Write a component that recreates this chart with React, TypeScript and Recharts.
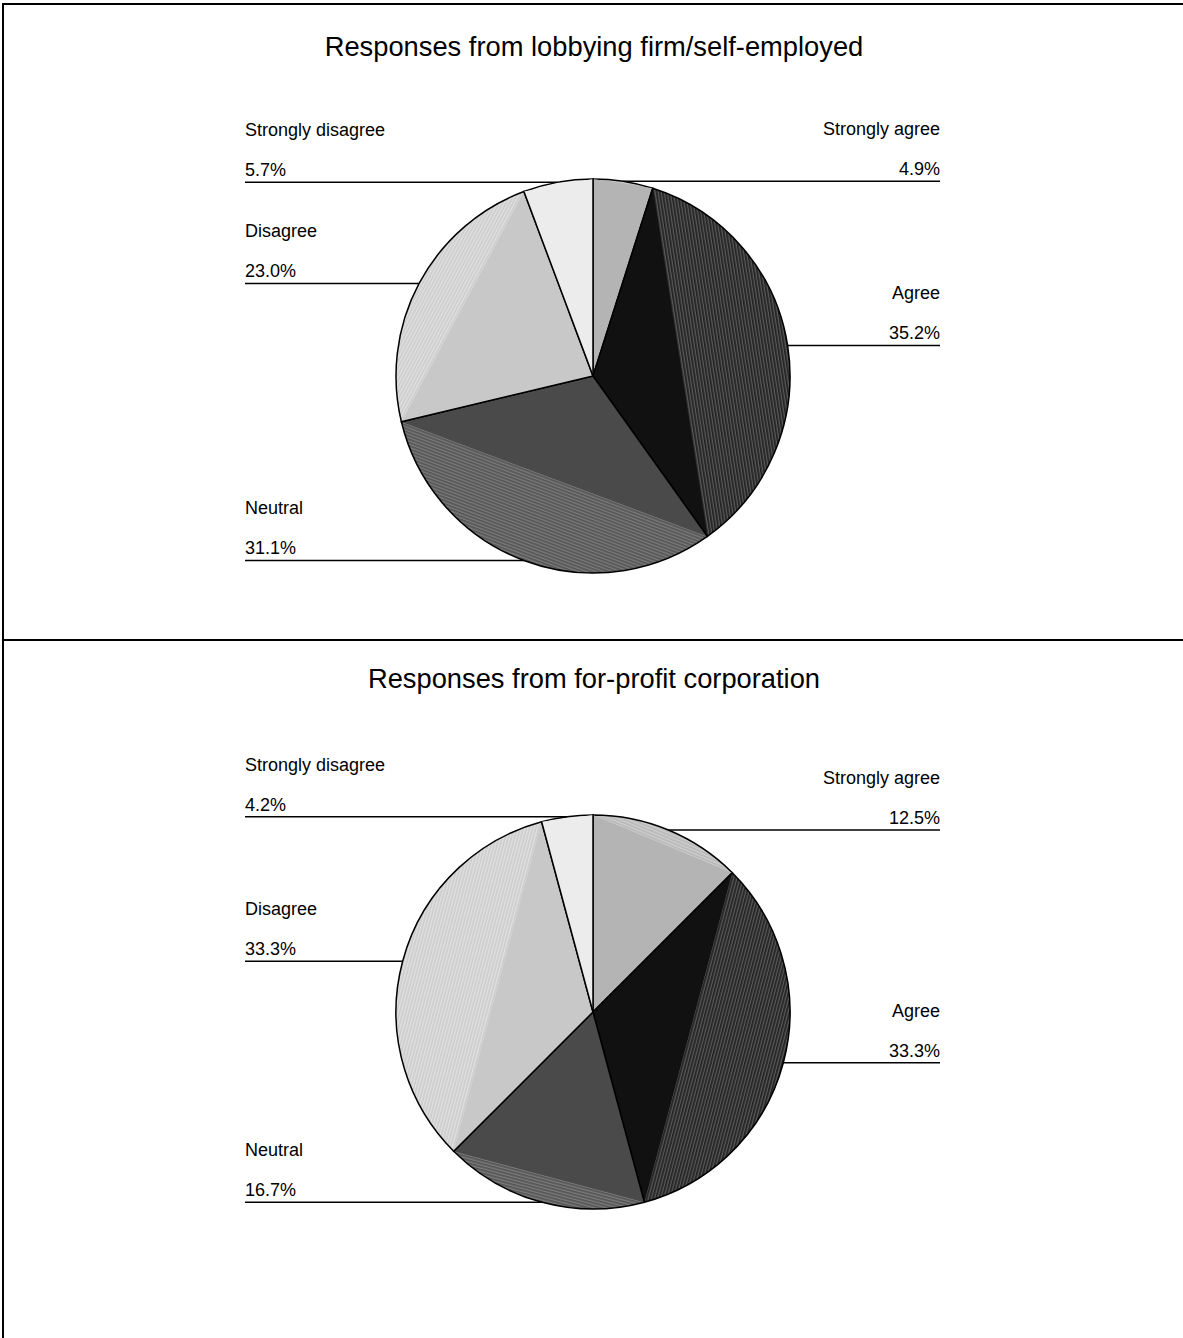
import { PieChart, Pie, Cell } from 'recharts';

const categories = ['Strongly agree', 'Agree', 'Neutral', 'Disagree', 'Strongly disagree'];
const lobbyingValues = [4.9, 35.2, 31.1, 23.0, 5.7];
const corporationValues = [12.5, 33.3, 16.7, 33.3, 4.2];

// solid part of each wedge, and the striped rim segment
const solidColors = ['#b4b4b4', '#111111', '#4a4a4a', '#c8c8c8', '#ececec'];
const hatchBase = ['#b8b8b8', '#222222', '#555555', '#cccccc', '#ececec'];
const hatchLine = ['#cfcfcf', '#5a5a5a', '#7c7c7c', '#e2e2e2', '#f6f6f6'];

const FONT = '"Liberation Sans", Arial, Helvetica, sans-serif';
const RAD = Math.PI / 180;

const polar = (cx: number, cy: number, r: number, a: number) => ({
  x: cx + r * Math.cos(-a * RAD),
  y: cy + r * Math.sin(-a * RAD),
});

const makeLabel = (prefix: string) => (props: any) => {
  const { cx, cy, outerRadius, startAngle, endAngle, midAngle, name, value } = props;
  const i = categories.indexOf(name);
  const p1 = polar(cx, cy, outerRadius, startAngle);
  const p2 = polar(cx, cy, outerRadius, endAngle);
  const chord = (Math.atan2(p2.y - p1.y, p2.x - p1.x) / RAD).toFixed(2);
  const m = polar(cx, cy, outerRadius, midAngle);
  const right = m.x > cx;
  const endX = right ? cx + 347 : cx - 348;
  const anchor = right ? 'end' : 'start';
  return (
    <g>
      <defs>
        <pattern
          id={`${prefix}-hatch-${i}`}
          patternUnits="userSpaceOnUse"
          width={3}
          height={3}
          patternTransform={`rotate(${chord})`}
        >
          <rect width={3} height={3} fill={hatchBase[i]} />
          <rect width={3} height={1.3} fill={hatchLine[i]} />
        </pattern>
      </defs>
      <polygon points={`${cx},${cy} ${p1.x},${p1.y} ${p2.x},${p2.y}`} fill={solidColors[i]} />
      <line x1={cx} y1={cy} x2={p1.x} y2={p1.y} stroke="#000" strokeWidth={1.5} />
      <line x1={cx} y1={cy} x2={p2.x} y2={p2.y} stroke="#000" strokeWidth={1.5} />
      <line x1={m.x} y1={m.y} x2={endX} y2={m.y} stroke="#000" strokeWidth={1.5} />
      <text x={endX} y={m.y - 46} textAnchor={anchor} fontSize={18} fontFamily={FONT} fill="#000">
        {name}
      </text>
      <text x={endX} y={m.y - 6} textAnchor={anchor} fontSize={18} fontFamily={FONT} fill="#000">
        {Number(value).toFixed(1)}%
      </text>
    </g>
  );
};

interface PanelProps {
  prefix: string;
  values: number[];
  height: number;
  cy: number;
}

const PiePanel = ({ prefix, values, height, cy }: PanelProps) => {
  const data = categories.map((name, i) => ({ name, value: values[i] }));
  return (
    <PieChart width={1183} height={height} margin={{ top: 0, right: 0, bottom: 0, left: 0 }}>
      <Pie
        data={data}
        dataKey="value"
        nameKey="name"
        cx={593}
        cy={cy}
        outerRadius={197}
        startAngle={90}
        endAngle={-270}
        stroke="#000"
        strokeWidth={1.5}
        labelLine={false}
        label={makeLabel(prefix)}
        isAnimationActive={false}
      >
        {data.map((d, i) => (
          <Cell key={d.name} fill={`url(#${prefix}-hatch-${i})`} />
        ))}
      </Pie>
    </PieChart>
  );
};

const titleStyle = (top: number): React.CSSProperties => ({
  position: 'absolute',
  left: 0,
  width: 1188,
  top,
  textAlign: 'center',
  fontFamily: FONT,
  fontSize: 27.3,
  lineHeight: '27px',
  color: '#000',
});

const App = () => {
  return (
    <div style={{ position: 'relative', width: 1183, height: 1338, background: '#fff', overflow: 'hidden' }}>
      <style>{'body{margin:0}'}</style>
      <div style={{ position: 'absolute', left: 0, top: 0 }}>
        <PiePanel prefix="lob" values={lobbyingValues} height={640} cy={376} />
      </div>
      <div style={{ position: 'absolute', left: 0, top: 640 }}>
        <PiePanel prefix="corp" values={corporationValues} height={698} cy={372} />
      </div>
      <div style={titleStyle(33)}>Responses from lobbying firm/self-employed</div>
      <div style={titleStyle(665)}>Responses from for-profit corporation</div>
      {/* frame lines */}
      <div style={{ position: 'absolute', left: 2, top: 3, width: 2, height: 1335, background: '#000' }} />
      <div style={{ position: 'absolute', left: 2, top: 3, width: 1181, height: 2, background: '#000' }} />
      <div style={{ position: 'absolute', left: 2, top: 639, width: 1181, height: 2, background: '#000' }} />
    </div>
  );
};

export default App;
